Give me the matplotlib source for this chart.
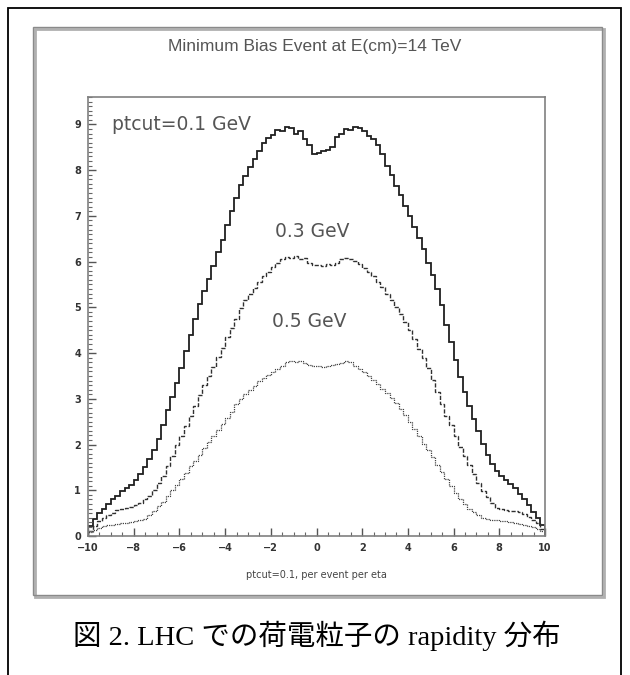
"""Charged-particle rapidity distributions at the LHC (minimum bias, 14 TeV)."""

import numpy as np
import matplotlib
matplotlib.use("Agg")
import matplotlib.pyplot as plt
from matplotlib.patches import Rectangle
from matplotlib.ticker import MultipleLocator

# histogram binning: 100 bins of 0.2 in eta
eta_edges = np.linspace(-10, 10, 101)

# ptcut = 0.1 GeV
pt01 = [0.22, 0.38, 0.50, 0.60, 0.70, 0.80, 0.88, 0.98, 1.05, 1.12,
        1.22, 1.35, 1.50, 1.68, 1.88, 2.12, 2.42, 2.75, 3.05, 3.35,
        3.68, 4.05, 4.40, 4.75, 5.08, 5.35, 5.62, 5.90, 6.20, 6.48,
        6.80, 7.10, 7.40, 7.68, 7.88, 8.08, 8.25, 8.42, 8.60, 8.70,
        8.76, 8.88, 8.85, 8.95, 8.93, 8.80, 8.85, 8.68, 8.55, 8.35,
        8.38, 8.42, 8.45, 8.50, 8.72, 8.78, 8.90, 8.88, 8.95, 8.92,
        8.85, 8.75, 8.68, 8.55, 8.35, 8.10, 7.90, 7.65, 7.45, 7.22,
        7.00, 6.75, 6.52, 6.28, 5.98, 5.70, 5.40, 5.05, 4.62, 4.25,
        3.85, 3.48, 3.15, 2.85, 2.55, 2.30, 2.02, 1.78, 1.58, 1.42,
        1.32, 1.22, 1.14, 1.04, 0.92, 0.80, 0.68, 0.52, 0.40, 0.25]

# ptcut = 0.3 GeV
pt03 = [0.12, 0.22, 0.32, 0.40, 0.46, 0.50, 0.56, 0.60, 0.62, 0.64,
        0.68, 0.72, 0.80, 0.88, 1.00, 1.15, 1.32, 1.52, 1.75, 1.98,
        2.18, 2.40, 2.62, 2.85, 3.08, 3.30, 3.50, 3.70, 3.92, 4.12,
        4.35, 4.55, 4.75, 4.98, 5.15, 5.30, 5.42, 5.55, 5.68, 5.78,
        5.88, 5.98, 6.05, 6.10, 6.08, 6.12, 6.05, 6.08, 5.98, 5.92,
        5.92, 5.90, 5.95, 5.92, 5.98, 6.05, 6.08, 6.05, 6.02, 5.95,
        5.85, 5.78, 5.68, 5.55, 5.45, 5.30, 5.15, 5.00, 4.85, 4.68,
        4.50, 4.30, 4.10, 3.90, 3.68, 3.42, 3.15, 2.88, 2.62, 2.42,
        2.18, 1.95, 1.75, 1.55, 1.35, 1.15, 0.98, 0.85, 0.72, 0.62,
        0.58, 0.56, 0.55, 0.55, 0.52, 0.48, 0.42, 0.35, 0.28, 0.15]

# ptcut = 0.5 GeV
pt05 = [0.08, 0.14, 0.18, 0.21, 0.23, 0.25, 0.26, 0.28, 0.29, 0.30,
        0.32, 0.34, 0.38, 0.45, 0.55, 0.65, 0.75, 0.88, 1.00, 1.12,
        1.25, 1.38, 1.52, 1.65, 1.78, 1.92, 2.05, 2.18, 2.32, 2.45,
        2.58, 2.72, 2.88, 3.00, 3.10, 3.20, 3.28, 3.38, 3.45, 3.52,
        3.58, 3.65, 3.72, 3.80, 3.82, 3.80, 3.82, 3.78, 3.75, 3.72,
        3.72, 3.70, 3.72, 3.74, 3.76, 3.78, 3.82, 3.80, 3.72, 3.65,
        3.58, 3.50, 3.42, 3.32, 3.22, 3.12, 3.02, 2.90, 2.78, 2.65,
        2.50, 2.35, 2.18, 2.02, 1.88, 1.72, 1.55, 1.40, 1.25, 1.10,
        0.95, 0.82, 0.70, 0.60, 0.52, 0.45, 0.40, 0.37, 0.35, 0.34,
        0.33, 0.32, 0.30, 0.28, 0.27, 0.25, 0.22, 0.20, 0.16, 0.10]

labels = ["ptcut=0.1 GeV", "0.3 GeV", "0.5 GeV"]
label_pos = [(-8.95, 9.0, "left"), (-0.2, 6.65, "center"), (-0.3, 4.7, "center")]
xticks = np.arange(-10, 11, 2)
yticks = np.arange(0, 10, 1)

W, H = 630, 675
fig = plt.figure(figsize=(W / 100, H / 100), dpi=100)


def px(x0, y0, x1, y1):
    # pixel box -> figure fraction rect
    return [x0 / W, 1 - y1 / H, (x1 - x0) / W, (y1 - y0) / H]


# outer black frame and the grey frame of the embedded picture
fig.patches.append(Rectangle((8 / W, -0.1), 613 / W, 1 - 8 / H + 0.1,
                             transform=fig.transFigure, fill=False,
                             ec="black", lw=1.3))
fig.patches.append(Rectangle((35 / W, 1 - 597 / H), 569 / W, 568 / H,
                             transform=fig.transFigure, fill=False,
                             ec="#b0b0b0", lw=2.0))
fig.patches.append(Rectangle((33 / W, 1 - 595 / H), 569 / W, 568 / H,
                             transform=fig.transFigure, fill=False,
                             ec="#8a8a8a", lw=1.0))

ax = fig.add_axes(px(88, 97, 545, 536))
ax.stairs(pt01, eta_edges, baseline=0, color="#202020", lw=1.3)
ax.stairs(pt03, eta_edges, baseline=0, color="#303030", lw=1.0,
          linestyle=(0, (3, 1.2)))
ax.stairs(pt05, eta_edges, baseline=0, color="#444444", lw=0.9,
          linestyle=(0, (1, 0.8)))

ax.set_xlim(-10, 10)
ax.set_ylim(0, 9.6)
ax.set_xticks(xticks)
ax.set_xticklabels([str(v).replace("-", "\u2212") for v in xticks])
ax.set_yticks(yticks)
ax.xaxis.set_minor_locator(MultipleLocator(0.5))
ax.yaxis.set_minor_locator(MultipleLocator(0.1))
ax.tick_params(which="major", direction="in", length=6, width=1.0,
               color="#555555", labelsize=7, labelcolor="#333333", pad=5)
ax.tick_params(which="minor", direction="in", length=3, width=0.8,
               color="#666666")
ax.tick_params(axis="x", which="both", top=False)
ax.tick_params(axis="y", which="both", right=False)
for lbl in ax.get_xticklabels() + ax.get_yticklabels():
    lbl.set_fontweight("bold")
for sp in ax.spines.values():
    sp.set_color("#808080")
    sp.set_linewidth(1.2)

ax.set_xlabel("ptcut=0.1, per event per eta", fontsize=7,
              color="#444444", labelpad=12)

for text, (x, y, ha) in zip(labels, label_pos):
    ax.text(x, y, text, ha=ha, va="center", fontsize=13.5,
            color="#555555", family="DejaVu Sans")

fig.text(315 / W, 1 - 47 / H, "Minimum Bias Event at E(cm)=14 TeV",
         ha="center", va="center", fontsize=12.5, color="#555555",
         family="Liberation Sans")

fig.text(317 / W, 1 - 636 / H, "図 2. LHC での荷電粒子の rapidity 分布",
         ha="center", va="center", fontsize=20.5, color="black",
         family=["Liberation Serif", "Noto Sans CJK JP"])

fig.savefig("out.png", dpi=100)
